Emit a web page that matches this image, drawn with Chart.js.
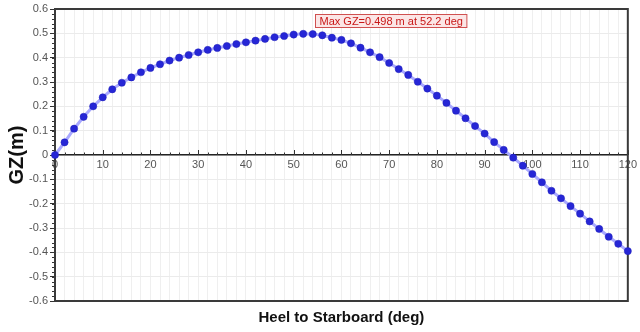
<!DOCTYPE html>
<html>
<head>
<meta charset="utf-8">
<script src="https://cdn.jsdelivr.net/npm/chart.js@4/dist/chart.umd.min.js"></script>
<style>
  html, body { margin: 0; padding: 0; background: #fff; }
  #wrap { width: 640px; height: 332px; position: relative; }
</style>
</head>
<body>
<div id="wrap"><canvas id="gzChart"></canvas></div>
<script>
/* ── Data: GZ curve ── */
const heelDeg = [0, 2, 4, 6, 8, 10, 12, 14, 16, 18, 20, 22, 24, 26, 28, 30, 32, 34, 36, 38,
  40, 42, 44, 46, 48, 50, 52, 54, 56, 58, 60, 62, 64, 66, 68, 70, 72, 74, 76, 78,
  80, 82, 84, 86, 88, 90, 92, 94, 96, 98, 100, 102, 104, 106, 108, 110, 112, 114, 116, 118, 120];
const gzMetres = [0, 0.052, 0.108, 0.157, 0.200, 0.237, 0.270, 0.297, 0.319, 0.340,
  0.358, 0.373, 0.388, 0.400, 0.411, 0.422, 0.432, 0.440, 0.448, 0.456,
  0.463, 0.470, 0.477, 0.484, 0.489, 0.495, 0.498, 0.497, 0.492, 0.482,
  0.473, 0.459, 0.441, 0.422, 0.402, 0.378, 0.353, 0.329, 0.301, 0.273,
  0.244, 0.214, 0.182, 0.151, 0.119, 0.088, 0.053, 0.021, -0.011, -0.044,
  -0.078, -0.112, -0.147, -0.178, -0.210, -0.241, -0.273, -0.304, -0.336, -0.365, -0.395];
const maxGz = { deg: 52.2, gz: 0.498 };
const maxLabel = 'Max GZ=0.498 m at 52.2 deg';
const xTitle = 'Heel to Starboard (deg)';

const FONT = '"Liberation Sans", Arial, sans-serif';

/* ── Frame, minor ticks, annotation and x title ── */
const decor = {
  id: 'decor',
  beforeDatasetsDraw(chart) {
    const { ctx, chartArea: a, scales: { x, y } } = chart;
    const y0 = y.getPixelForValue(0);
    ctx.save();
    ctx.strokeStyle = '#333';
    /* minor ticks on left axis (outside) */
    ctx.lineWidth = 1;
    for (let v = -0.6; v <= 0.6001; v += 0.02) {
      const py = Math.round(y.getPixelForValue(v)) + 0.5;
      ctx.beginPath(); ctx.moveTo(a.left - 3, py); ctx.lineTo(a.left, py); ctx.stroke();
    }
    /* ticks on the zero line (upwards) */
    for (let d = 0; d <= 120; d += 2) {
      const px = Math.round(x.getPixelForValue(d)) + 0.5;
      const len = d % 10 === 0 ? 5 : 2.5;
      ctx.beginPath(); ctx.moveTo(px, y0); ctx.lineTo(px, y0 - len); ctx.stroke();
    }
    /* frame */
    ctx.lineWidth = 2;
    ctx.strokeStyle = '#3a3a3a';
    ctx.strokeRect(a.left, a.top, a.right - a.left, a.bottom - a.top);
    ctx.restore();
  },
  afterDraw(chart) {
    const { ctx, chartArea: a, scales: { x, y } } = chart;
    ctx.save();
    /* annotation for max GZ */
    ctx.font = '11px ' + FONT;
    const bx = Math.round(x.getPixelForValue(maxGz.deg)) + 11.5;
    const by = Math.round(y.getPixelForValue(maxGz.gz)) - 19.5;
    const tw = ctx.measureText(maxLabel).width;
    ctx.fillStyle = '#fbe6e6';
    ctx.strokeStyle = '#d05050';
    ctx.lineWidth = 1;
    ctx.fillRect(bx, by, tw + 8, 13);
    ctx.strokeRect(bx, by, tw + 8, 13);
    ctx.fillStyle = '#c81818';
    ctx.textBaseline = 'middle';
    ctx.fillText(maxLabel, bx + 4, by + 7);
    /* x axis title */
    ctx.font = 'bold 15px ' + FONT;
    ctx.fillStyle = '#111';
    ctx.textAlign = 'center';
    ctx.fillText(xTitle, (a.left + a.right) / 2, 318);
    ctx.restore();
  },
};

new Chart(document.getElementById('gzChart'), {
  type: 'line',
  data: {
    datasets: [{
      data: heelDeg.map((d, i) => ({ x: d, y: gzMetres[i] })),
      borderColor: '#a9a9ff',
      borderWidth: 3,
      pointBackgroundColor: '#2626d6',
      pointBorderColor: '#1e1eb8',
      pointBorderWidth: 0.5,
      pointRadius: 3.6,
      tension: 0,
      clip: 8,
    }],
  },
  options: {
    responsive: true, maintainAspectRatio: false,
    animation: false,
    layout: { padding: { top: 9, right: 7, bottom: 31, left: 0 } },
    plugins: { legend: { display: false }, tooltip: { enabled: false } },
    scales: {
      x: {
        type: 'linear', position: { y: 0 },
        min: 0, max: 120,
        afterFit: s => { s.height = 0; },
        ticks: {
          stepSize: 2, autoSkip: false, maxRotation: 0, padding: 3,
          color: '#555', font: { family: FONT, size: 11 },
          callback: v => (v % 10 === 0 ? String(v) : ''),
        },
        grid: { color: '#efefef', drawTicks: false },
        border: { color: '#222', width: 1.5 },
      },
      y: {
        min: -0.6, max: 0.6,
        afterFit: s => { s.width = 55; },
        ticks: {
          stepSize: 0.1, padding: 2,
          color: '#555', font: { family: FONT, size: 11 },
        },
        grid: { color: '#ebebeb', tickColor: '#333', tickLength: 5 },
        border: { display: false },
        title: {
          display: true, text: 'GZ(m)', color: '#111',
          font: { family: FONT, size: 20, weight: 'bold' },
          padding: { top: 5, bottom: 0 },
        },
      },
    },
  },
  plugins: [decor],
});
</script>
</body>
</html>
